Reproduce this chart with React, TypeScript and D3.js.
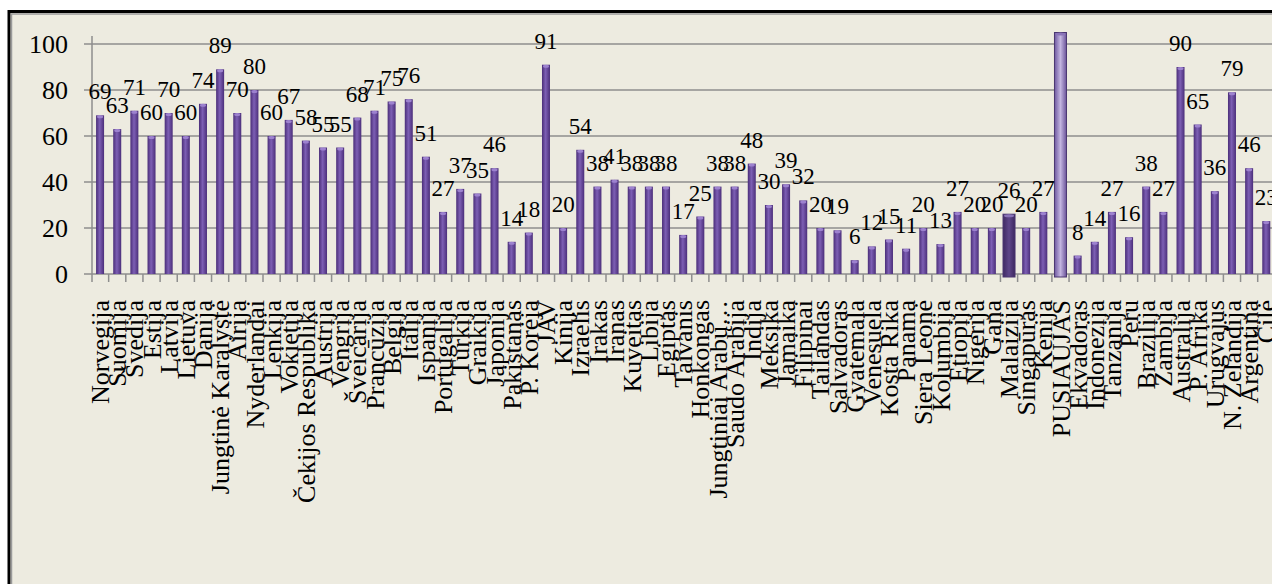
import * as d3 from 'd3';

// countries along the x axis, in drawing order
const categories = [
  'Norvegija', 'Suomija', 'Švedija', 'Estija', 'Latvija', 'Lietuva', 'Danija',
  'Jungtinė Karalystė', 'Airija', 'Nyderlandai', 'Lenkija', 'Vokietija',
  'Čekijos Respublika', 'Austrija', 'Vengrija', 'Šveicarija', 'Prancūzija',
  'Belgija', 'Italija', 'Ispanija', 'Portugalija', 'Turkija', 'Graikija',
  'Japonija', 'Pakistanas', 'P. Korėja', 'JAV', 'Kinija', 'Izraelis', 'Irakas',
  'Iranas', 'Kuveitas', 'Libija', 'Egiptas', 'Taivanis', 'Honkongas',
  'Jungtiniai Arabų…', 'Saudo Arabija', 'Indija', 'Meksika', 'Jamaika',
  'Filipinai', 'Tailandas', 'Salvadoras', 'Gvatemala', 'Venesuela',
  'Kosta Rika', 'Panama', 'Siera Leonė', 'Kolumbija', 'Etiopija', 'Nigerija',
  'Gana', 'Malaizija', 'Singapūras', 'Kenija', 'PUSIAUJAS', 'Ekvadoras',
  'Indonezija', 'Tanzanija', 'Peru', 'Brazilija', 'Zambija', 'Australija',
  'P. Afrika', 'Urugvajus', 'N. Zelandija', 'Argentina', 'Čilė',
];

const values = [
  69, 63, 71, 60, 70, 60, 74, 89, 70, 80, 60, 67, 58, 55, 55, 68, 71, 75, 76,
  51, 27, 37, 35, 46, 14, 18, 91, 20, 54, 38, 41, 38, 38, 38, 17, 25, 38, 38,
  48, 30, 39, 32, 20, 19, 6, 12, 15, 11, 20, 13, 27, 20, 20, 26, 20, 27, 105,
  8, 14, 27, 16, 38, 27, 90, 65, 36, 79, 46, 23,
];

const yTicks = [0, 20, 40, 60, 80, 100];

// bars drawn differently from the rest
const darkBar = 'Malaizija';
const equatorBar = 'PUSIAUJAS';

const serif = 'Liberation Serif';

export default function App() {
  const W = 1272;
  const H = 584;
  const step = 17.15;
  const left = 91.5;

  const x = d3.scaleBand<string>()
    .domain(categories)
    .range([left, left + categories.length * step]);
  const y = d3.scaleLinear().domain([0, 100]).range([274, 44]);

  const bw = 8;
  const wideBw = 12;

  return (
    <svg width={W} height={H} style={{ position: 'fixed', left: 0, top: 0, fontFamily: serif }}>
      <defs>
        <linearGradient id="barGrad" x1="0" x2="1" y1="0" y2="0">
          <stop offset="0%" stopColor="#4a2d78" />
          <stop offset="45%" stopColor="#7d5fb4" />
          <stop offset="100%" stopColor="#4b2e7a" />
        </linearGradient>
        <linearGradient id="darkGrad" x1="0" x2="1" y1="0" y2="0">
          <stop offset="0%" stopColor="#3f2a63" />
          <stop offset="50%" stopColor="#5e4689" />
          <stop offset="100%" stopColor="#3d2760" />
        </linearGradient>
        <linearGradient id="eqGrad" x1="0" x2="1" y1="0" y2="0">
          <stop offset="0%" stopColor="#6e58a0" />
          <stop offset="50%" stopColor="#c3b5e0" />
          <stop offset="100%" stopColor="#6b5499" />
        </linearGradient>
      </defs>

      <rect x={0} y={0} width={W} height={H} fill="#ffffff" />
      <rect x={9} y={11.5} width={W + 20} height={H + 20} fill="#edebe0" stroke="#000" strokeWidth={3} />
      <rect x={11.5} y={14} width={W + 20} height={H + 20} fill="none" stroke="#9a9a9a" strokeWidth={1.5} />

      {/* gridlines + y axis */}
      {yTicks.map(t => (
        <g key={t}>
          <line x1={84} x2={W} y1={y(t)} y2={y(t)} stroke="#8e8e8e" strokeWidth={1.5} />
          <text x={68} y={y(t)} dy="0.35em" textAnchor="end" fontSize={26} fill="#000">
            {t}
          </text>
        </g>
      ))}
      <line x1={92} x2={92} y1={36} y2={282} stroke="#8e8e8e" strokeWidth={1.5} />
      {categories.map(c => (
        <line key={'t' + c} x1={x(c)! + step} x2={x(c)! + step} y1={274} y2={282} stroke="#8e8e8e" strokeWidth={1.5} />
      ))}

      {/* bars */}
      {categories.map((c, i) => {
        const cx = x(c)! + step / 2;
        const v = values[i];
        const special = c === darkBar || c === equatorBar;
        const w = special ? wideBw : bw;
        const top = y(v);
        const bottom = special ? 277 : 274;
        const fill = c === darkBar ? 'url(#darkGrad)' : c === equatorBar ? 'url(#eqGrad)' : 'url(#barGrad)';
        return (
          <g key={'b' + c}>
            <rect x={cx - w / 2} y={top} width={w} height={bottom - top} fill={fill}
              stroke={special ? '#4a3670' : 'none'} strokeWidth={special ? 1 : 0} />
            <ellipse cx={cx} cy={top + 1.5} rx={w / 2 - 1} ry={1.5} fill={special ? '#8a74b8' : '#9d82cf'} />
          </g>
        );
      })}

      {/* value labels */}
      {categories.map((c, i) => (
        c === equatorBar ? null : (
          <text key={'v' + c} x={x(c)! + step / 2} y={y(values[i]) - 16} textAnchor="middle"
            fontSize={23} fill="#000">
            {values[i]}
          </text>
        )
      ))}

      {/* category labels */}
      {categories.map(c => (
        <text key={'l' + c} transform={`translate(${x(c)! + step / 2},300) rotate(-90)`}
          dy="0.35em" textAnchor="end" fontSize={26} fill="#000">
          {c}
        </text>
      ))}
    </svg>
  );
}
